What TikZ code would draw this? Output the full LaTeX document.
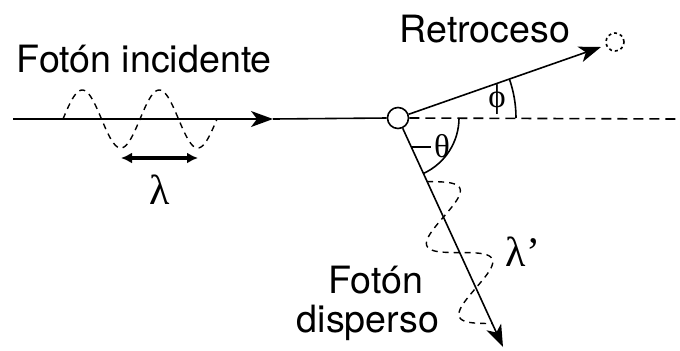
\documentclass[tikz,border=0pt]{standalone}
\usepackage{fontspec}
\setmainfont{TeX Gyre Heros}
\newfontfamily\grk{Liberation Serif}
\usetikzlibrary{arrows.meta}
\begin{document}
\begin{tikzpicture}[x=0.5pt,y=0.5pt,
  line width=0.8pt,
  lbl/.style={inner sep=0pt, font=\fontsize{18.8}{20}\selectfont},
  grklbl/.style={inner sep=0pt, font=\fontsize{16.5}{18}\grk},
  biggrk/.style={inner sep=0pt, font=\fontsize{21}{22}\grk},
  wave/.style={dash pattern=on 3pt off 2.5pt, line width=0.7pt},
  tip/.style={-{Stealth[length=11pt,width=8pt,inset=3pt]}},
]
\useasboundingbox (0,-350) rectangle (680,0);
% points and particles
\coordinate (src) at (13,-119);
\coordinate (mid) at (273,-119);
\coordinate (rend) at (680,-119);
\coordinate (rtip) at (601,-47);
\coordinate (stip) at (503,-347);
\node[circle, draw, minimum size=10.5pt, inner sep=0pt] (e) at (398,-118) {};
\node[circle, draw, minimum size=9pt, inner sep=0pt, dash pattern=on 1.5pt off 1.5pt] (rc) at (615,-42) {};
% lines
\draw[tip] (src) -- (mid);
\draw (mid) -- (e.west);
\draw[dash pattern=on 5pt off 3pt] (e.east) -- (rend);
\draw[tip] (e) -- (rtip);
\draw[tip] (e) -- (stip);
% angles
\draw (e.center) ++(0:118) arc[start angle=0, end angle=19.4, radius=118];
\draw (e.center) ++(0:61) arc[start angle=0, end angle=-65.4, radius=61];
\draw (411,-147) -- (431,-147);
% waves
\draw[wave] plot[domain=63:217, samples=120, smooth] (\x, {-119 + 29*sin(4.6753*(\x-63))});
\begin{scope}[shift={(e.center)}, rotate=-65.4]
  \draw[wave] plot[domain=70:226, samples=120, smooth] (\x, {27*sin(4.615*(\x-70))});
\end{scope}
% wavelength
\coordinate (la) at (121,-158);
\coordinate (lb) at (198,-158);
\draw[{Latex[length=5.5pt,width=5.5pt]}-{Latex[length=5.5pt,width=5.5pt]}, line width=1.6pt] (la) -- (lb);
% labels
\node[biggrk] (lam) at (160,-190) {λ};
\node[biggrk] (lamp) at (523,-252) {λ’};
\node[grklbl] (phi) at (497,-100) {ϕ};
\node[grklbl] (theta) at (442,-146) {θ};
\node[lbl, anchor=base west] (inc) at (16,-72) {Fotón incidente};
\node[lbl, anchor=base west] (ret) at (399,-42) {Retroceso};
\node[lbl, anchor=base] (d1) at (376,-293) {Fotón};
\node[lbl, anchor=base] (d2) at (368,-332) {disperso};
\end{tikzpicture}
\end{document}
